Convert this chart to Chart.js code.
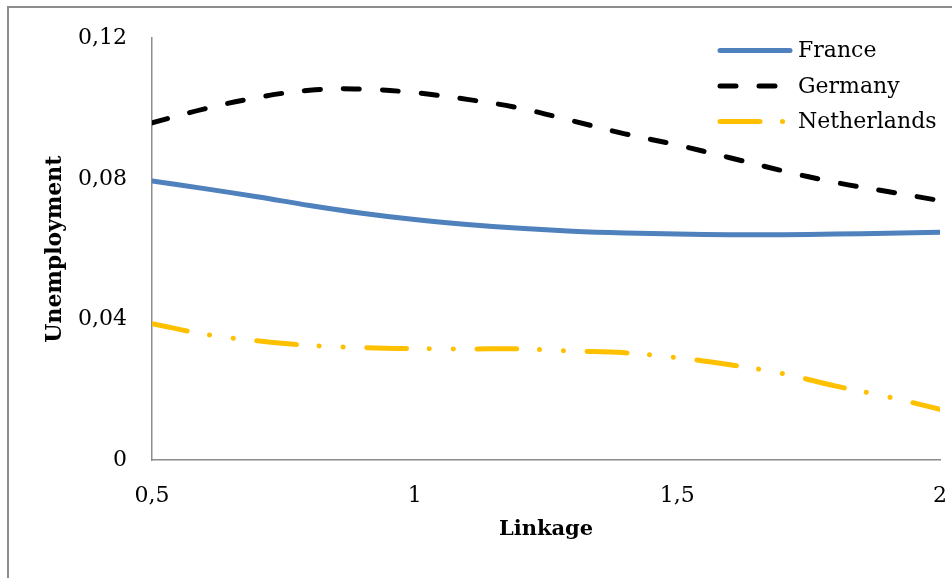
<!DOCTYPE html>
<html>
<head>
<meta charset="utf-8">
<script src="https://cdn.jsdelivr.net/npm/chart.js@4/dist/chart.umd.min.js"></script>
<style>
  html, body { margin: 0; padding: 0; background: #ffffff; }
  #wrap { width: 952px; height: 578px; }
</style>
</head>
<body>
<div id="wrap"><canvas id="c" width="952" height="578"></canvas></div>
<script>
// ---- data ----
const linkage = [0.5, 0.6, 0.7, 0.8, 0.9, 1.0, 1.1, 1.2, 1.3, 1.4, 1.5, 1.6, 1.7, 1.8, 1.9, 2.0];
const france = [0.0794, 0.0772, 0.0749, 0.0724, 0.0702, 0.0684, 0.0670, 0.0659, 0.0651, 0.0646, 0.0643, 0.0641, 0.0641, 0.0643, 0.0645, 0.0648];
const germany = [0.0959, 0.0999, 0.1031, 0.1052, 0.1055, 0.1045, 0.1026, 0.1001, 0.0965, 0.0928, 0.0896, 0.0860, 0.0823, 0.0790, 0.0764, 0.0738];
const netherlands = [0.0388, 0.0358, 0.0339, 0.0326, 0.0320, 0.0317, 0.0316, 0.0316, 0.0310, 0.0305, 0.0291, 0.0271, 0.0246, 0.0211, 0.0180, 0.0144];
const seriesNames = ['France', 'Germany', 'Netherlands'];
const xTicks = [0.5, 1, 1.5, 2];
const xTickLabels = ['0,5', '1', '1,5', '2'];
const yTicks = [0, 0.04, 0.08, 0.12];
const yTickLabels = ['0', '0,04', '0,08', '0,12'];
const xTitle = 'Linkage';
const yTitle = 'Unemployment';

const toPts = arr => linkage.map((x, i) => ({ x: x, y: arr[i] }));
const FONT = '"DejaVu Serif", "Liberation Serif", serif';

const borderPlugin = {
  id: 'frame',
  beforeDraw(chart) {
    const ctx = chart.ctx;
    ctx.save();
    ctx.fillStyle = '#ffffff';
    ctx.fillRect(0, 0, chart.width, chart.height);
    ctx.strokeStyle = '#8c8c8c';
    ctx.lineWidth = 2;
    ctx.beginPath();
    ctx.moveTo(8, chart.height + 2);
    ctx.lineTo(8, 7);
    ctx.lineTo(chart.width + 2, 7);
    ctx.stroke();
    ctx.restore();
  }
};

const legendPlugin = {
  id: 'customLegend',
  afterDraw(chart) {
    const ctx = chart.ctx;
    const x0 = 720, x1 = 790, ys = [50.5, 86, 121.5];
    chart.data.datasets.forEach((ds, i) => {
      ctx.save();
      ctx.strokeStyle = ds.borderColor;
      ctx.lineWidth = ds.borderWidth;
      ctx.lineCap = ds.borderCapStyle || 'butt';
      ctx.setLineDash(ds.borderDash || []);
      ctx.beginPath();
      ctx.moveTo(x0, ys[i]);
      ctx.lineTo(x1, ys[i]);
      ctx.stroke();
      ctx.setLineDash([]);
      ctx.fillStyle = '#000000';
      ctx.font = '22px ' + FONT;
      ctx.textBaseline = 'middle';
      ctx.textAlign = 'left';
      ctx.fillText(ds.label, 798, ys[i] + 1);
      ctx.restore();
    });
  }
};

new Chart(document.getElementById('c'), {
  type: 'line',
  data: {
    datasets: [
      { label: seriesNames[0], data: toPts(france), borderColor: '#4f81bd', borderWidth: 5, borderCapStyle: 'round', pointRadius: 0, tension: 0.4, fill: false },
      { label: seriesNames[1], data: toPts(germany), borderColor: '#000000', borderWidth: 5, borderCapStyle: 'round', borderDash: [16, 23], pointRadius: 0, tension: 0.4, fill: false },
      { label: seriesNames[2], data: toPts(netherlands), borderColor: '#ffc000', borderWidth: 5, borderCapStyle: 'round', borderDash: [40, 22.5, 0.1, 24, 0.1, 23.5], borderDashOffset: 4, pointRadius: 0, tension: 0.4, fill: false }
    ]
  },
  options: {
    responsive: false,
    animation: false,
    layout: { padding: { top: 37, right: 12, left: 0, bottom: 0 } },
    plugins: { legend: { display: false }, tooltip: { enabled: false } },
    scales: {
      x: {
        type: 'linear',
        min: 0.5, max: 2,
        afterBuildTicks: s => { s.ticks = xTicks.map(v => ({ value: v })); },
        afterFit: s => { s.height = 118; s.paddingLeft = 0; s.paddingRight = 0; },
        grid: { display: false, drawTicks: false, tickLength: 0 },
        border: { display: true, color: '#8c8c8c', width: 1.5 },
        ticks: {
          padding: 23,
          color: '#000000',
          font: { family: FONT, size: 22 },
          maxRotation: 0,
          callback: (v, i) => xTickLabels[i]
        },
        title: { display: true, text: xTitle, color: '#000000', font: { family: FONT, size: 21, weight: 'bold' }, padding: { top: 0, bottom: 36 } }
      },
      y: {
        min: 0, max: 0.12,
        afterBuildTicks: s => { s.ticks = yTicks.map(v => ({ value: v })); },
        afterFit: s => { s.width = 152; },
        grid: { display: false, drawTicks: false, tickLength: 0 },
        border: { display: true, color: '#8c8c8c', width: 1.5 },
        ticks: {
          padding: 25,
          color: '#000000',
          font: { family: FONT, size: 22 },
          callback: (v, i) => yTickLabels[i]
        },
        title: { display: true, text: yTitle, color: '#000000', font: { family: FONT, size: 22, weight: 'bold' }, padding: { top: 42, bottom: 0 } }
      }
    }
  },
  plugins: [borderPlugin, legendPlugin]
});
</script>
</body>
</html>
